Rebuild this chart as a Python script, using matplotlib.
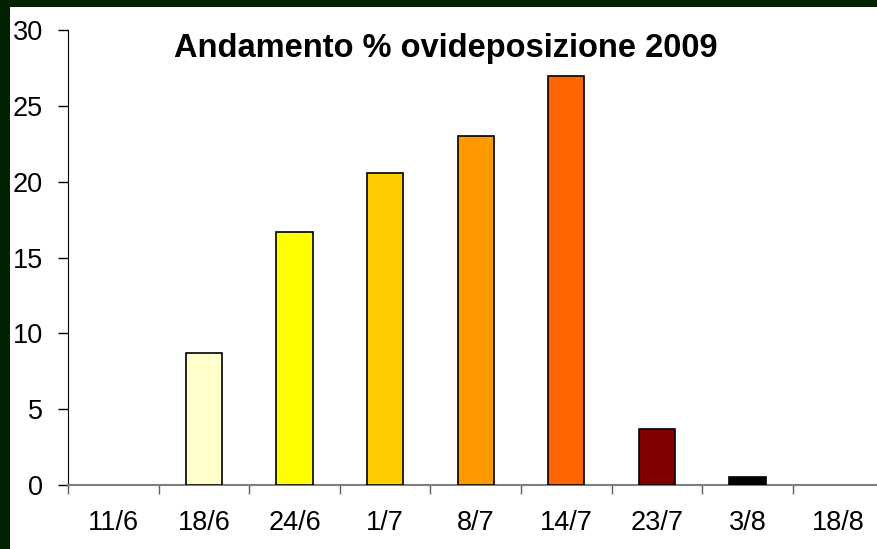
import numpy as np
import matplotlib.pyplot as plt
from matplotlib.patches import Rectangle

plt.rcParams['font.family'] = ['Liberation Sans', 'DejaVu Sans']

dates = ['11/6', '18/6', '24/6', '1/7', '8/7', '14/7', '23/7', '3/8', '18/8']
values = [0, 8.7, 16.7, 20.6, 23.0, 27.0, 3.7, 0.5, 0]
colors = ['#FFFFFF', '#FFFFCC', '#FFFF00', '#FFCC00', '#FF9900',
          '#FF6600', '#800000', '#000000', '#FFFFFF']
yticks = [0, 5, 10, 15, 20, 25, 30]

fig = plt.figure(figsize=(8.77, 5.49), dpi=100)
fig.patch.set_facecolor('#002200')
# white panel inside the dark green frame
fig.patches.append(Rectangle((10/877, 0), 1, 1 - 7/549, transform=fig.transFigure,
                             facecolor='white', edgecolor='none', zorder=-1))

ax = fig.add_axes([68/877, 1 - 485/549, 9*90.6/877, 455/549])
ax.set_facecolor('none')

x = np.arange(len(dates))
for xi, v, c in zip(x, values, colors):
    if v > 0:
        ax.bar(xi, v, width=0.4, color=c, edgecolor='black', linewidth=1.2, zorder=3)

ax.set_xlim(-0.5, len(dates) - 0.5)
ax.set_ylim(0, 30)
ax.set_yticks(yticks)
ax.set_xticks(x)
ax.set_xticklabels(dates)
ax.set_xticks(np.arange(-0.5, len(dates), 1), minor=True)
ax.tick_params(axis='x', which='major', length=0, labelsize=19.5, pad=18)
ax.tick_params(axis='x', which='minor', length=6.5, width=1, color='#606060', direction='out')
ax.tick_params(axis='y', length=7, width=1, labelsize=19.5, pad=11, direction='out')

for s in ['top', 'right']:
    ax.spines[s].set_visible(False)
ax.spines['left'].set_color('black')
ax.spines['bottom'].set_color('#808080')
ax.spines['bottom'].set_linewidth(1.5)

fig.text(446/877, 1 - 57/549, 'Andamento % ovideposizione 2009', ha='center', va='baseline',
         fontsize=23.5, fontweight='bold')

fig.savefig('out.png', dpi=100, facecolor=fig.get_facecolor())
